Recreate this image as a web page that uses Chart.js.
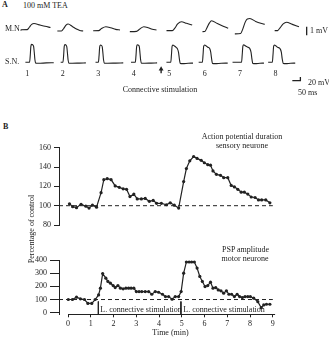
<!DOCTYPE html>
<html>
<head>
<meta charset="utf-8">
<script src="https://cdn.jsdelivr.net/npm/chart.js@4.4.0/dist/chart.umd.min.js"></script>
<style>
    html, body { margin: 0; padding: 0; background: #fff; }
    #fig { position: relative; width: 329px; height: 338px; overflow: hidden; font-family: 'Liberation Serif', 'DejaVu Serif', serif; color: #222; }
    #fig canvas { position: absolute; left: 0; }
    .t { position: absolute; font-size: 8px; line-height: 1; white-space: nowrap; color: #222; }
    .c { transform: translate(-50%, -50%); }
    .l { transform: translateY(-50%); }
    .rot { transform: translate(-50%, -50%) rotate(-90deg); }
</style>
</head>
<body>
<div id="fig">
    <canvas id="mnChart" width="329" height="27" style="top:15px"></canvas>
    <canvas id="snChart" width="329" height="54" style="top:36px"></canvas>
    <canvas id="apChart" width="329" height="115" style="top:140px"></canvas>
    <canvas id="pspChart" width="329" height="88" style="top:250px"></canvas>

    <div class="t l" style="left:2px;top:5px;font-weight:bold">A</div>
    <div class="t l" style="left:23px;top:6px">100 mM TEA</div>
    <div class="t l" style="left:5px;top:29px">M.N.</div>
    <div class="t l" style="left:5px;top:62px">S.N.</div>
    <div class="t l" style="left:310px;top:31px">1 mV</div>
    <div class="t c" style="left:160px;top:90px">Connective stimulation</div>
    <div class="t l" style="left:308px;top:82.5px">20 mV</div>
    <div class="t l" style="left:298px;top:93px">50 ms</div>

    <div class="t l" style="left:3px;top:127px;font-weight:bold">B</div>
    <div class="t c" style="left:242px;top:137px">Action potential duration</div>
    <div class="t c" style="left:242px;top:146px">sensory neurone</div>
    <div class="t c" style="left:245.5px;top:250px">PSP amplitude</div>
    <div class="t c" style="left:245px;top:259.3px">motor neurone</div>
    <div class="t rot" style="left:32px;top:229px">Percentage of control</div>
    <div class="t l" style="left:100.3px;top:310px">L. connective stimulation</div>
    <div class="t l" style="left:183.3px;top:310px">L. connective stimulation</div>
    <div class="t c" style="left:170.5px;top:333px">Time (min)</div>
</div>
<script>
// Panel A: sweeps, [ms from sweep start, mV]
const sweepNumbers = ['1', '2', '3', '4', '5', '6', '7', '8'];

const mnTraces = [
    [[0, 0.15], [40, 0.17], [52, 0.45], [66, 0.8], [80, 0.9], [116, 0.72], [146, 0.57], [179, 0.42]],
    [[0, 0], [25, 0], [38, 0.3], [52, 0.7], [65, 0.84], [90, 0.55], [115, 0.25], [135, 0.05], [155, 0]],
    [[-5, 0.03], [28, 0.04], [45, 0.3], [71, 0.52], [100, 0.4], [130, 0.2], [156, 0.12]],
    [[-5, -0.08], [35, -0.05], [55, 0.25], [79, 0.52], [105, 0.4], [130, 0.2], [155, 0.12]],
    [[-5, 0.04], [30, 0.05], [45, 0.35], [62, 0.85], [85, 1.12], [115, 0.93], [149, 0.72]],
    [[-9, -0.08], [5, -0.06], [18, 0.4], [32, 0.95], [45, 1.24], [80, 0.9], [115, 0.58], [145, 0.33]],
    [[-35, -0.35], [0, -0.3], [12, 0.2], [28, 1.1], [40, 1.45], [55, 1.5], [90, 1.15], [144, 0.8]],
    [[-16, 0.04], [2, 0.05], [15, 0.35], [35, 0.85], [55, 1.05], [90, 0.8], [130, 0.52]]
];

const snTraces = [
    [[0, 0], [26, 0], [30, 35], [34, 88], [39, 99], [45, 97], [51, 88], [55, 55], [59, 15], [64, -5], [80, -6], [130, -4], [176, -3]],
    [[-1, 0], [13, 0], [17, 35], [21, 88], [26, 98], [32, 95], [37, 85], [41, 50], [45, 12], [50, -5], [70, -6], [115, -5], [155, -4]],
    [[-5, 0], [13, 0], [17, 35], [21, 86], [26, 96], [32, 93], [37, 84], [41, 50], [45, 12], [50, -5], [70, -6], [120, -5], [167, -4]],
    [[-5, 0], [22, 0], [26, 35], [30, 86], [35, 97], [41, 95], [47, 85], [51, 50], [55, 12], [60, -5], [80, -6], [120, -5], [157, -4]],
    [[-5, 0], [22, 0], [26, 40], [30, 88], [35, 96], [45, 90], [55, 83], [63, 75], [70, 55], [75, 20], [81, -7], [95, -8], [130, -6], [160, -5]],
    [[-25, 0], [-2, 0], [2, 40], [6, 88], [12, 96], [22, 90], [32, 83], [44, 75], [50, 55], [55, 20], [61, -7], [75, -8], [115, -6], [155, -5]],
    [[-35, 0], [21, 0], [25, 40], [29, 88], [34, 97], [46, 90], [58, 84], [72, 76], [80, 55], [85, 20], [91, -7], [105, -8], [135, -6], [160, -5]],
    [[-34, 0], [-8, 0], [-4, 40], [0, 88], [5, 96], [15, 90], [25, 83], [40, 75], [48, 55], [53, 20], [60, -7], [75, -8], [105, -6], [134, -5]]
];

const mvBar = [-0.5, 0.5];          // 1 mV
const snBarMv = [-102, -82];        // 20 mV
const snBarMs = [1780, 1830];       // 50 ms
const stimArrowMv = [-62, -38];

// Panel B
const apTime = [0.06, 0.2, 0.37, 0.57, 0.78, 0.92, 1.07, 1.25, 1.45, 1.57, 1.72, 1.89, 2.07, 2.25, 2.42, 2.57, 2.72, 2.89, 3.04, 3.22,
    3.39, 3.57, 3.74, 3.89, 4.1, 4.32, 4.49, 4.67, 4.86, 5.08, 5.2, 5.35, 5.52, 5.67, 5.85, 5.99, 6.14, 6.26, 6.37, 6.52,
    6.7, 6.84, 7.02, 7.17, 7.31, 7.46, 7.61, 7.75, 7.9, 8.05, 8.22, 8.37, 8.51, 8.69, 8.87];
const apValue = [102, 99, 98, 101.5, 99.5, 97.5, 100.5, 98.5, 113.5, 127, 128, 127, 120.5, 119, 117.5, 117, 109.5, 112, 107, 107,
    107.5, 104.5, 105.5, 102.5, 102.5, 101, 103, 100.5, 97.5, 125, 138.5, 146.5, 151, 149, 147, 144.5, 142.5, 142, 136, 132.5,
    131.5, 129, 129, 121, 119.5, 117, 114, 114, 112, 109, 108.5, 106, 106, 106, 103];

const pspTime = [0.01, 0.19, 0.37, 0.54, 0.72, 0.87, 1.04, 1.19, 1.34, 1.42, 1.52, 1.66, 1.75, 1.86, 1.98, 2.07, 2.19, 2.3, 2.42, 2.54,
    2.66, 2.77, 2.89, 3.0, 3.12, 3.24, 3.39, 3.54, 3.68, 3.83, 3.98, 4.15, 4.28, 4.42, 4.57, 4.71, 4.86, 4.97, 5.08, 5.2,
    5.32, 5.43, 5.55, 5.67, 5.79, 5.9, 6.02, 6.14, 6.26, 6.37, 6.49, 6.6, 6.72, 6.84, 6.96, 7.07, 7.19, 7.31, 7.43, 7.54,
    7.66, 7.78, 7.9, 8.01, 8.16, 8.34, 8.49, 8.6, 8.72, 8.87];
const pspValue = [100, 100, 118, 105, 100, 70, 70, 100, 135, 186, 297, 262, 237, 224, 206, 191, 206, 186, 181, 186,
    186, 186, 186, 160, 160, 160, 160, 160, 140, 160, 155, 140, 122, 122, 102, 122, 122, 160, 300, 385,
    385, 385, 385, 339, 275, 237, 198, 206, 232, 186, 191, 173, 166, 148, 166, 140, 140, 122, 140, 122,
    115, 122, 122, 122, 110, 84, 38, 59, 64, 64];

const controlLevel = 100;
const controlEnd = 9.0;
const stimTimes = [1.33, 4.96];
const timeTicks = [0, 1, 2, 3, 4, 5, 6, 7, 8, 9];
const apTicks = [80, 100, 120, 140, 160];
const pspTicks = [0, 100, 200, 300, 400];

const ink = '#222';
const firstSweepMs = 124;
const sweepSpacingMs = 220;
const timeMin = -0.4;
const timeMax = 9.1;

Chart.defaults.font.family = "'Liberation Serif', 'DejaVu Serif', serif";
Chart.defaults.font.size = 8;
Chart.defaults.color = ink;

const sweepStart = i => firstSweepMs + i * sweepSpacingMs;

function traceSet(trace, i) {
    return {
        data: trace.map(p => ({ x: sweepStart(i) + p[0], y: p[1] })),
        borderColor: ink,
        borderWidth: 1.1,
        pointRadius: 0,
        cubicInterpolationMode: 'monotone'
    };
}

function plainLine(points, extra) {
    return Object.assign({
        data: points,
        borderColor: ink,
        backgroundColor: ink,
        borderWidth: 1,
        pointRadius: 0,
        tension: 0
    }, extra || {});
}

function traceOptions(yMin, yMax) {
    return {
        responsive: false,
        animation: false,
        devicePixelRatio: 1,
        layout: { padding: 0 },
        plugins: { legend: { display: false }, tooltip: { enabled: false } },
        scales: {
            x: { type: 'linear', min: 0, max: 1974, display: false },
            y: { min: yMin, max: yMax, display: false }
        }
    };
}

const barMs = 1840;
new Chart(document.getElementById('mnChart'), {
    type: 'line',
    data: {
        datasets: mnTraces.map(traceSet).concat([
            plainLine([{ x: barMs, y: mvBar[0] }, { x: barMs, y: mvBar[1] }], { borderWidth: 1.3 })
        ])
    },
    options: traceOptions(-1.325, 1.928)
});

// stimulus given between sweeps 4 and 5
const stimMs = sweepStart(4) - 38;
const snChart = new Chart(document.getElementById('snChart'), {
    type: 'line',
    data: {
        datasets: snTraces.map(traceSet).concat([
            plainLine([{ x: snBarMs[0], y: snBarMv[0] }, { x: snBarMs[1], y: snBarMv[0] }, { x: snBarMs[1], y: snBarMv[1] }], { borderWidth: 1.3 }),
            plainLine([{ x: stimMs, y: stimArrowMv[0] }, { x: stimMs, y: stimArrowMv[1] }], {
                borderWidth: 1.4,
                pointRadius: [0, 1.4],
                pointStyle: 'triangle'
            })
        ])
    },
    options: traceOptions(-124.6, 115.7)
});

const fig = document.getElementById('fig');
sweepNumbers.forEach((n, i) => {
    const d = document.createElement('div');
    d.className = 't c';
    d.textContent = n;
    d.style.left = snChart.scales.x.getPixelForValue(sweepStart(i) + 12) + 'px';
    d.style.top = '74px';
    fig.appendChild(d);
});

// Panel B charts
const timeAxisLine = {
    id: 'timeAxisLine',
    afterDraw(chart) {
        if (!chart.options.scales.x.display) return;
        const x = chart.scales.x;
        const y = Math.round(chart.chartArea.bottom) + 0.5;
        const ctx = chart.ctx;
        ctx.save();
        ctx.strokeStyle = ink;
        ctx.lineWidth = 1;
        ctx.beginPath();
        ctx.moveTo(x.getPixelForValue(0), y);
        ctx.lineTo(x.getPixelForValue(timeMax), y);
        ctx.stroke();
        ctx.restore();
    }
};

function seriesSet(times, values) {
    return {
        data: times.map((t, i) => ({ x: t, y: values[i] })),
        borderColor: ink,
        backgroundColor: ink,
        borderWidth: 1.2,
        pointRadius: 1.6,
        pointBorderWidth: 0,
        tension: 0
    };
}

function percentOptions(yMin, yMax, yTicks, tickLen, padding, showTime) {
    return {
        responsive: false,
        animation: false,
        devicePixelRatio: 1,
        layout: { padding: padding },
        plugins: { legend: { display: false }, tooltip: { enabled: false } },
        scales: {
            x: {
                type: 'linear',
                min: timeMin,
                max: timeMax,
                display: showTime,
                afterBuildTicks: s => { s.ticks = timeTicks.map(v => ({ value: v })); },
                afterFit: s => { s.height = 23.7; },
                border: { display: false },
                grid: { drawOnChartArea: false, drawTicks: true, tickLength: 3, color: ink },
                ticks: { color: ink, padding: 2, maxRotation: 0, font: { size: 8 } }
            },
            y: {
                min: yMin,
                max: yMax,
                afterBuildTicks: s => { s.ticks = yTicks.map(v => ({ value: v })); },
                afterFit: s => { s.width = 59; },
                border: { display: true, color: ink, width: 1 },
                grid: { drawOnChartArea: false, drawTicks: true, tickLength: tickLen, color: ink },
                ticks: { color: ink, padding: 3, font: { size: 8 } }
            }
        }
    };
}

function controlLine() {
    return plainLine([{ x: timeMin, y: controlLevel }, { x: controlEnd, y: controlLevel }], { borderDash: [4, 3] });
}

new Chart(document.getElementById('apChart'), {
    type: 'line',
    data: { datasets: [seriesSet(apTime, apValue), controlLine()] },
    options: percentOptions(80, 160, apTicks, 5, { left: 0, right: 53.9, top: 7.5, bottom: 6.3 }, false),
    plugins: [timeAxisLine]
});

const pspMin = -12.2;
new Chart(document.getElementById('pspChart'), {
    type: 'line',
    data: {
        datasets: [seriesSet(pspTime, pspValue), controlLine()].concat(
            stimTimes.map(t => plainLine([{ x: t, y: 85 }, { x: t, y: pspMin }]))
        )
    },
    options: percentOptions(pspMin, 400, pspTicks, 9, { left: 0, right: 53.9, top: 10, bottom: 0 }, true),
    plugins: [timeAxisLine]
});
</script>
</body>
</html>
